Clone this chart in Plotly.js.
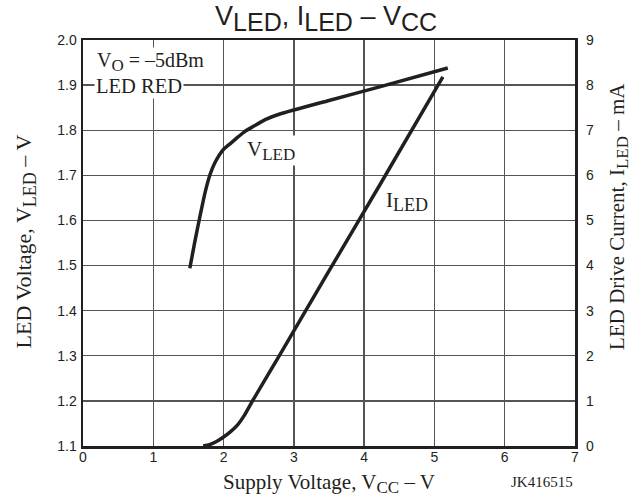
<!DOCTYPE html>
<html>
<head>
<meta charset="utf-8">
<script src="https://cdn.plot.ly/plotly-3.0.1.min.js"></script>
<style>html,body{margin:0;padding:0;background:#fff;}#chart{width:639px;height:499px;}</style>
</head>
<body>
<div id="chart"></div>
<script>
// Supply voltage points for the LED voltage curve (V)
const vccForVled = [1.52, 1.59, 1.66, 1.74, 1.81, 1.88, 1.99, 2.10, 2.19, 2.30, 2.42, 2.60, 2.80, 3.50, 4.22, 5.19];
// LED voltage (V)
const vled = [1.494, 1.552, 1.606, 1.664, 1.703, 1.729, 1.756, 1.771, 1.783, 1.797, 1.808, 1.824, 1.836, 1.866, 1.896, 1.938];
// Supply voltage points for the LED current curve (V)
const vccForIled = [1.71, 1.80, 1.90, 2.00, 2.10, 2.20, 2.30, 2.42, 2.80, 3.50, 4.22, 5.12];
// LED drive current (mA)
const iled = [0, 0.03, 0.1, 0.2, 0.32, 0.47, 0.69, 1.02, 2.02, 3.88, 5.78, 8.18];

const xTickVals = [0, 1, 2, 3, 4, 5, 6, 7];
const yTickVals = [1.1, 1.2, 1.3, 1.4, 1.5, 1.6, 1.7, 1.8, 1.9, 2.0];
const y2TickVals = [0, 1, 2, 3, 4, 5, 6, 7, 8, 9];

const INK = '#231f20';
const GRID = '#555555';
const SANS = 'Liberation Sans, Arial, sans-serif';
const SERIF = 'Liberation Serif, Times New Roman, serif';

function sub(t, px) { return '<sub><span style="font-size:' + px + 'px">' + t + '</span></sub>'; }

const traces = [
  {x: vccForVled, y: vled, type: 'scatter', mode: 'lines', xaxis: 'x', yaxis: 'y',
   line: {color: INK, width: 3.5, shape: 'spline', smoothing: 0.5}, hoverinfo: 'skip'},
  {x: vccForIled, y: iled, type: 'scatter', mode: 'lines', xaxis: 'x', yaxis: 'y2',
   line: {color: INK, width: 3.5, shape: 'spline', smoothing: 0.5}, hoverinfo: 'skip'}
];

const axisCommon = {
  showgrid: true, gridcolor: GRID, gridwidth: 1.4, zeroline: false,
  showline: true, linecolor: INK, linewidth: 2.5, mirror: true,
  ticks: '', tickfont: {family: SANS, size: 14, color: INK}, fixedrange: true
};

const layout = {
  width: 639, height: 499,
  margin: {l: 83, r: 64, t: 40, b: 53, pad: 0},
  paper_bgcolor: '#fff', plot_bgcolor: '#fff',
  showlegend: false,
  title: {
    text: 'V' + sub('LED', 25) + ', I' + sub('LED', 25) + ' \u2013 V' + sub('CC', 25),
    font: {family: SANS, size: 27, color: INK},
    x: 0.494, xanchor: 'center', xref: 'paper', y: 0.968, yanchor: 'middle', yref: 'container'
  },
  xaxis: Object.assign({}, axisCommon, {range: [0, 7], tickvals: xTickVals, ticktext: xTickVals.map(String), ticklabelstandoff: -3}),
  yaxis: Object.assign({}, axisCommon, {range: [1.1, 2.0], tickvals: yTickVals, ticktext: yTickVals.map(v => v.toFixed(1)), ticklabelstandoff: 1}),
  yaxis2: {overlaying: 'y', side: 'right', range: [0, 9], tickvals: y2TickVals, ticktext: y2TickVals.map(String),
    showgrid: false, zeroline: false, showline: false, ticks: '', ticklabelstandoff: 10,
    tickfont: {family: SANS, size: 14, color: INK}, fixedrange: true},
  annotations: [
    {text: 'V' + sub('O', 17) + ' = \u20135dBm', xref: 'x', yref: 'y', x: 0.17, y: 1.951, xanchor: 'left', yanchor: 'middle',
     showarrow: false, bgcolor: '#fff', borderpad: 1, font: {family: SERIF, size: 20, color: INK}},
    {text: 'LED RED', xref: 'x', yref: 'y', x: 0.15, y: 1.898, xanchor: 'left', yanchor: 'middle',
     showarrow: false, bgcolor: '#fff', borderpad: 1, font: {family: SERIF, size: 20.5, color: INK}},
    {text: 'V' + sub('LED', 17), xref: 'x', yref: 'y', x: 2.31, y: 1.754, xanchor: 'left', yanchor: 'middle',
     showarrow: false, bgcolor: '#fff', borderpad: 1, font: {family: SERIF, size: 21, color: INK}},
    {text: 'I' + sub('LED', 18), xref: 'x', yref: 'y', x: 4.28, y: 1.641, xanchor: 'left', yanchor: 'middle',
     showarrow: false, bgcolor: '#fff', borderpad: 1, font: {family: SERIF, size: 21, color: INK}},
    {text: 'Supply Voltage, V' + sub('CC', 17) + ' \u2013 V', xref: 'paper', yref: 'paper', x: 0.5, y: -0.093,
     xanchor: 'center', yanchor: 'middle', showarrow: false, font: {family: SERIF, size: 21, color: INK}},
    {text: 'LED Voltage, V' + sub('LED', 18) + ' \u2013 V', xref: 'paper', yref: 'paper', x: -0.115, y: 0.505,
     xanchor: 'center', yanchor: 'middle', textangle: -90, showarrow: false, font: {family: SERIF, size: 22, color: INK}},
    {text: 'LED Drive Current, I' + sub('LED', 17) + ' \u2013 mA', xref: 'paper', yref: 'paper', x: 1.088, y: 0.565,
     xanchor: 'center', yanchor: 'middle', textangle: -90, showarrow: false, font: {family: SERIF, size: 21, color: INK}},
    {text: 'JK416515', xref: 'paper', yref: 'paper', x: 1.0, y: -0.088,
     xanchor: 'right', yanchor: 'middle', showarrow: false, font: {family: SERIF, size: 15, color: INK}}
  ]
};

Plotly.newPlot('chart', traces, layout, {staticPlot: true, displayModeBar: false});
</script>
</body>
</html>
